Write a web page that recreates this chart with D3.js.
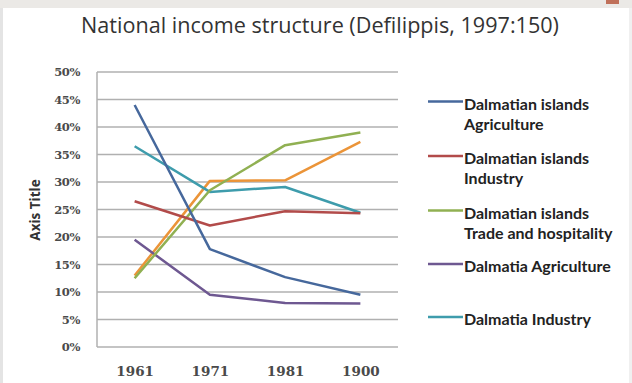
<!DOCTYPE html>
<html lang="en">
<head>
    <meta charset="UTF-8">
    <title>National income structure</title>
    <script src="https://cdnjs.cloudflare.com/ajax/libs/d3/7.8.5/d3.min.js"></script>
    <style>
        body { margin: 0; background: #fff; }
        svg { display: block; font-family: "Open Sans", "Liberation Sans", sans-serif; }
        .tick text { font-family: "DejaVu Serif", serif; font-weight: bold; fill: #4a4a4a; }
        .legend text { font-family: Lato, sans-serif; font-weight: bold; }
    </style>
</head>
<body>
    <svg width="632" height="383"></svg>

    <script>
        // data
        const years = ["1961", "1971", "1981", "1900"];
        const yTicks = [0, 0.05, 0.1, 0.15, 0.2, 0.25, 0.3, 0.35, 0.4, 0.45, 0.5];

        const islandsAgriculture = [0.44, 0.178, 0.127, 0.095];
        const islandsIndustry = [0.265, 0.221, 0.247, 0.243];
        const islandsTrade = [0.125, 0.285, 0.367, 0.39];
        const dalmatiaAgriculture = [0.195, 0.095, 0.08, 0.079];
        const dalmatiaIndustry = [0.365, 0.282, 0.291, 0.244];
        const dalmatiaTrade = [0.13, 0.302, 0.303, 0.373];   // no legend entry visible

        const series = [
            { name: ["Dalmatian islands", "Agriculture"], values: islandsAgriculture, color: "#46689c" },
            { name: ["Dalmatian islands", "Industry"], values: islandsIndustry, color: "#b24b4a" },
            { name: ["Dalmatian islands", "Trade and hospitality"], values: islandsTrade, color: "#90b052" },
            { name: ["Dalmatia Agriculture"], values: dalmatiaAgriculture, color: "#6e5891" },
            { name: ["Dalmatia Industry"], values: dalmatiaIndustry, color: "#3e9cac" },
            { name: null, values: dalmatiaTrade, color: "#eb9438" }
        ];

        const svg = d3.select("svg");

        // window chrome bits
        svg.append("rect").attr("x", 0).attr("y", 0).attr("width", 632).attr("height", 8).attr("fill", "#ebe9e6");
        svg.append("rect").attr("x", 606).attr("y", 0).attr("width", 13).attr("height", 4).attr("fill", "#c0705a");
        svg.append("rect").attr("x", 0).attr("y", 8).attr("width", 3).attr("height", 375).attr("fill", "#e4e4e4");
        svg.append("rect").attr("x", 629).attr("y", 8).attr("width", 3).attr("height", 375).attr("fill", "#f0f0f0");

        svg.append("text")
            .attr("x", 320).attr("y", 33)
            .attr("text-anchor", "middle")
            .attr("font-size", 21.6)
            .attr("fill", "#333")
            .text("National income structure (Defilippis, 1997:150)");

        const plotLeft = 97, plotRight = 398, plotTop = 72, plotBottom = 347;

        const x = d3.scalePoint().domain(years).range([plotLeft, plotRight]).padding(0.5);
        const y = d3.scaleLinear().domain([0, 0.5]).range([plotBottom, plotTop]);

        // gridlines
        svg.append("g")
            .selectAll("line")
            .data(yTicks)
            .join("line")
            .attr("x1", plotLeft).attr("x2", plotRight)
            .attr("y1", d => y(d)).attr("y2", d => y(d))
            .attr("stroke", "#b0b0b0")
            .attr("stroke-width", 1.5);

        svg.append("line")
            .attr("x1", plotLeft).attr("x2", plotLeft)
            .attr("y1", plotTop).attr("y2", plotBottom)
            .attr("stroke", "#b0b0b0").attr("stroke-width", 1.5);

        const yAxis = svg.append("g")
            .attr("transform", `translate(${plotLeft},0)`)
            .call(d3.axisLeft(y).tickValues(yTicks).tickFormat(d3.format(".0%")).tickSize(0).tickPadding(17));
        yAxis.select(".domain").remove();
        yAxis.selectAll("text").attr("font-size", 11.5).attr("letter-spacing", -0.4);

        const xAxis = svg.append("g")
            .attr("transform", `translate(0,${plotBottom})`)
            .call(d3.axisBottom(x).tickSize(0).tickPadding(19));
        xAxis.select(".domain").remove();
        xAxis.selectAll("text").attr("font-size", 13.5).attr("fill", "#333");

        svg.append("text")
            .attr("transform", "translate(40,210) rotate(-90)")
            .attr("text-anchor", "middle")
            .attr("font-size", 13.5)
            .attr("font-weight", "bold")
            .attr("fill", "#333")
            .text("Axis Title");

        const line = d3.line()
            .x((d, i) => x(years[i]))
            .y(d => y(d));

        svg.append("g")
            .selectAll("path")
            .data(series.slice().reverse())
            .join("path")
            .attr("d", d => line(d.values))
            .attr("fill", "none")
            .attr("stroke", d => d.color)
            .attr("stroke-width", 2.5)
            .attr("stroke-linejoin", "round");

        // legend
        const legendY = [101.5, 156, 210.5, 264, 317];
        const legend = svg.append("g")
            .attr("class", "legend")
            .selectAll("g")
            .data(series.filter(d => d.name))
            .join("g")
            .attr("transform", (d, i) => `translate(428,${legendY[i]})`);

        legend.append("line")
            .attr("x1", 0).attr("x2", 35)
            .attr("stroke", d => d.color)
            .attr("stroke-width", 2.5);

        legend.append("text")
            .attr("font-size", 16)
            .attr("fill", "#222")
            .selectAll("tspan")
            .data(d => d.name)
            .join("tspan")
            .attr("x", 36)
            .attr("y", (d, i) => 8 + i * 20)
            .text(d => d);
    </script>
</body>
</html>
